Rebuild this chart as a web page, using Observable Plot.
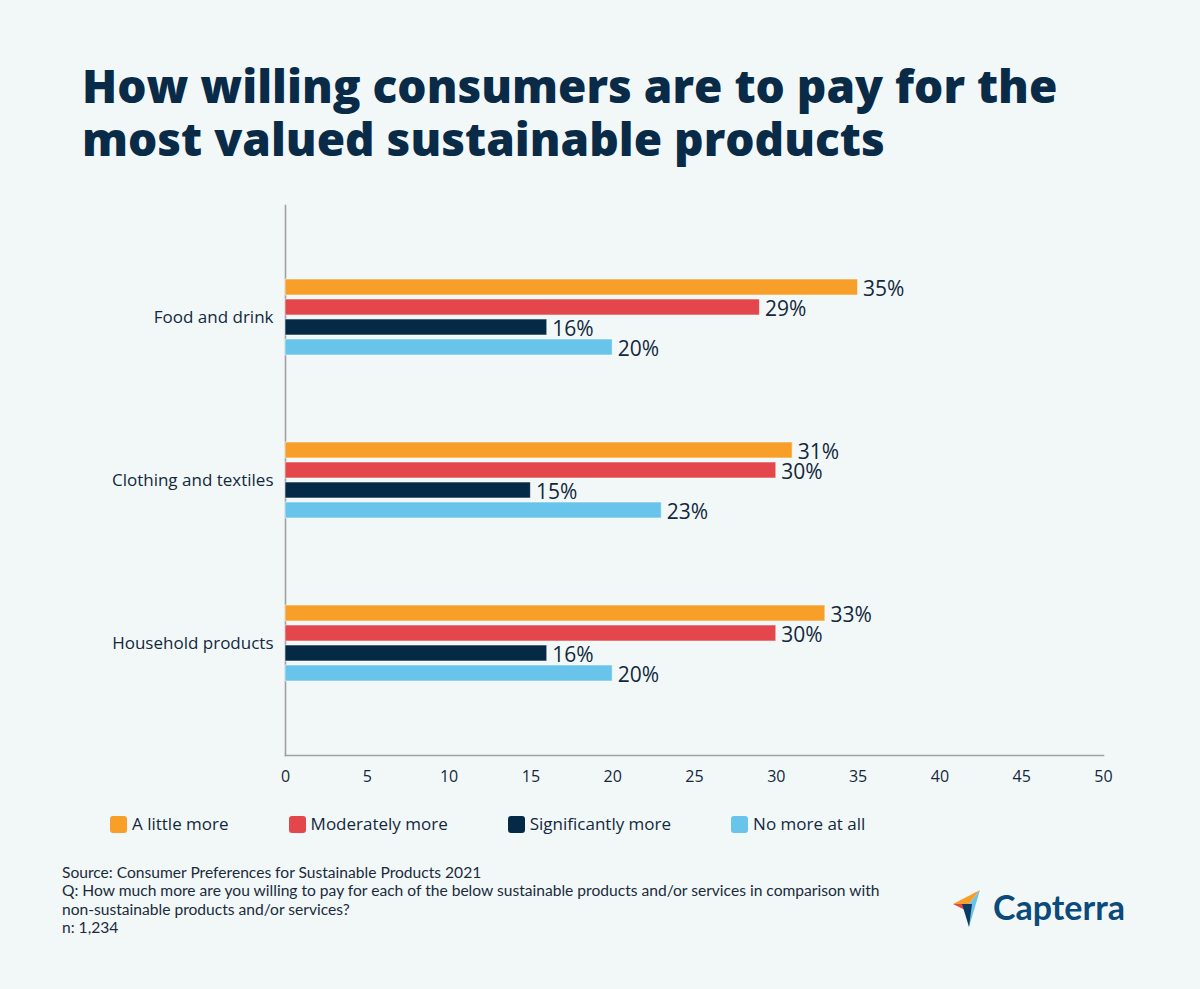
<!DOCTYPE html>
<html>
<head>
<meta charset="utf-8">
<script src="https://cdn.jsdelivr.net/npm/d3@7"></script>
<script src="https://cdn.jsdelivr.net/npm/@observablehq/plot@0.6"></script>
<style>
  html, body { margin: 0; padding: 0; }
  body { width: 1200px; height: 989px; background: #f2f8f8; position: relative; overflow: hidden; font-family: "Open Sans", sans-serif; }
  #title { position: absolute; left: 82px; top: 59px; margin: 0; font-family: "Open Sans", sans-serif; font-weight: 800; font-size: 46px; line-height: 53.4px; color: #0a2b47; letter-spacing: 0; }
  #axes, #chart { position: absolute; left: 0; top: 185px; }
  #legend { position: absolute; left: 110px; top: 815px; display: flex; gap: 60px; font-size: 17px; line-height: 18px; color: #13283d; }
  #legend .item { display: flex; align-items: center; }
  #legend .sw { width: 17px; height: 17px; border-radius: 3px; margin-right: 5px; }
  #caption { position: absolute; left: 62px; top: 862.5px; font-family: Lato, sans-serif; font-size: 15.6px; line-height: 18.5px; color: #1a2b3c; }
  #logo { position: absolute; left: 950px; top: 885px; }
</style>
</head>
<body>
<h1 id="title">How willing consumers are to pay for the<br>most valued sustainable products</h1>
<div id="axes"></div>
<div id="chart"></div>
<div id="legend"></div>
<div id="caption"></div>
<svg id="logo" width="200" height="46" viewBox="0 0 200 46">
  <polygon points="3,19 30,5 19,19" fill="#f89f2a"/>
  <polygon points="30,5 19,19 19,42" fill="#68c4ea"/>
  <polygon points="3,19 19,19 17,26" fill="#e4474b"/>
  <polygon points="12,19 22,19 19,42" fill="#0b3a63"/>
  <text x="43" y="35" font-family="Lato, 'Open Sans', sans-serif" font-weight="700" font-size="34" fill="#0b4a7a">Capterra</text>
</svg>
<script>
// ---- data ----
const categories = ["Food and drink", "Clothing and textiles", "Household products"];
const series = ["A little more", "Moderately more", "Significantly more", "No more at all"];
const foodAndDrink = [35, 29, 16, 20];
const clothingAndTextiles = [31, 30, 15, 23];
const householdProducts = [33, 30, 16, 20];
const xTicks = [0, 5, 10, 15, 20, 25, 30, 35, 40, 45, 50];
const seriesColors = ["#f89f2a", "#e4474b", "#052a45", "#68c4ea"];
const captionLines = [
  "Source: Consumer Preferences for Sustainable Products 2021",
  "Q: How much more are you willing to pay for each of the below sustainable products and/or services in comparison with",
  "non-sustainable products and/or services?",
  "n: 1,234"
];

const valuesByCategory = [foodAndDrink, clothingAndTextiles, householdProducts];
const rows = [];
categories.forEach((c, i) => series.forEach((s, j) => rows.push({category: c, series: s, value: valuesByCategory[i][j]})));

const ink = "#13283d";
const axisGray = "#a0a0a0";
const xDomain = [0, 50];

// shared frame geometry for the two layered plots
const layout = {width: 1200, height: 610, marginTop: 20, marginBottom: 40, marginLeft: 285, marginRight: 97};
const baseStyle = {background: "transparent", fontFamily: "'Open Sans', sans-serif", color: ink, overflow: "visible"};

// axes layer: left & bottom axis lines plus x tick labels
const axes = Plot.plot({
  ...layout,
  style: baseStyle,
  x: {domain: xDomain, axis: null},
  marks: [
    Plot.frame({anchor: "left", stroke: axisGray, strokeWidth: 1.6}),
    Plot.frame({anchor: "bottom", stroke: axisGray, strokeWidth: 1.6}),
    Plot.axisX({anchor: "bottom", ticks: xTicks, tickSize: 0, tickPadding: 15, fontSize: 16, label: null, fill: ink})
  ]
});
document.getElementById("axes").appendChild(axes);

// bars layer: grouped bars faceted by category (same x scale)
const chart = Plot.plot({
  ...layout,
  style: baseStyle,
  x: {domain: xDomain, axis: null},
  y: {domain: series, axis: null, paddingInner: 0.2, paddingOuter: 0.1},
  fy: {domain: categories, axis: null, paddingInner: 0.509, paddingOuter: 0.4415},
  color: {domain: series, range: seriesColors},
  marks: [
    Plot.barX(rows, {x: "value", y: "series", fy: "category", fill: "series", stroke: "#ffffff", strokeOpacity: 0.55, strokeWidth: 1}),
    Plot.text(rows, {x: "value", y: "series", fy: "category", text: d => `${d.value}%`, dx: 5, dy: 2, textAnchor: "start", fontSize: 21, fill: ink}),
    Plot.axisFy({anchor: "left", tickSize: 0, tickPadding: 12, fontSize: 17, label: null, fill: ink})
  ]
});
document.getElementById("chart").appendChild(chart);

// legend
const legend = document.getElementById("legend");
series.forEach((s, i) => {
  const item = document.createElement("div");
  item.className = "item";
  const sw = document.createElement("span");
  sw.className = "sw";
  sw.style.background = seriesColors[i];
  const label = document.createElement("span");
  label.textContent = s;
  item.appendChild(sw);
  item.appendChild(label);
  legend.appendChild(item);
});

// caption
const caption = document.getElementById("caption");
captionLines.forEach(t => {
  const div = document.createElement("div");
  div.textContent = t;
  caption.appendChild(div);
});
</script>
</body>
</html>
